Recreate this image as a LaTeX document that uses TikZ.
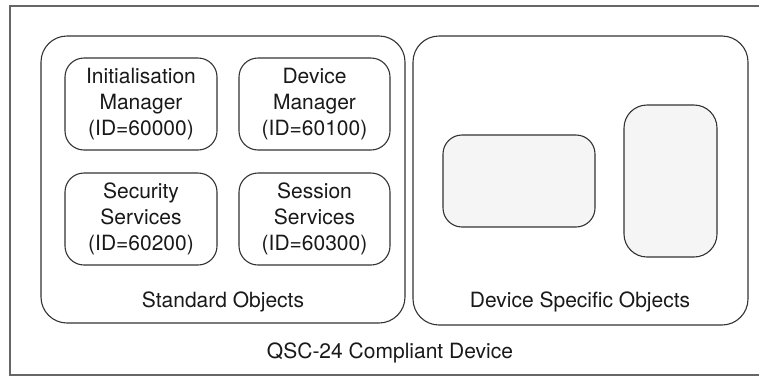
\documentclass[tikz,border=0pt]{standalone}
\usepackage{fontspec}
\setmainfont{TeX Gyre Heros}
\begin{document}
\begin{tikzpicture}[x=1pt,y=-1pt,
  every node/.style={font=\fontsize{21}{26}\selectfont, text=black!90, inner sep=0pt},
  frameline/.style={draw=black!60, line width=1.4pt},
  groupbox/.style={draw=black!80, line width=1.1pt, rounded corners=26pt},
  objbox/.style={draw=black!80, line width=1.1pt, rounded corners=19pt},
  blankbox/.style={objbox, fill=black!4},
  boxtext/.style={align=center}]
\useasboundingbox (0,0) rectangle (759,378);

% outer device frame (open on the right)
\coordinate (ftr) at (759,6);
\coordinate (ftl) at (10,6);
\coordinate (fbl) at (10,375);
\coordinate (fbr) at (759,375);
\draw[frameline] (ftr) -- (ftl) -- (fbl) -- (fbr);

% object groups
\draw[groupbox] (41,36) rectangle (405,323);
\draw[groupbox] (413,36) rectangle (748,325);

% standard objects
\draw[objbox] (65,58) rectangle (217,150);
\draw[objbox] (239,58) rectangle (390,150);
\draw[objbox] (65,173) rectangle (217,265);
\draw[objbox] (239,173) rectangle (390,265);

\node[boxtext] (init) at (141,104) {Initialisation\\Manager\\(ID=60000)};
\node[boxtext] (devmgr) at (314.5,104) {Device\\Manager\\(ID=60100)};
\node[boxtext] (secsvc) at (141,219) {Security\\Services\\(ID=60200)};
\node[boxtext] (sesssvc) at (314.5,219) {Session\\Services\\(ID=60300)};

% device specific objects
\draw[blankbox] (443,135) rectangle (595,227);
\draw[blankbox, rounded corners=23pt] (624,105) rectangle (717,257);

% captions
\node (stdlbl) at (223,302) {Standard Objects};
\node (dsolbl) at (580,302) {Device Specific Objects};
\node (devlbl) at (390,353) {QSC-24 Compliant Device};
\end{tikzpicture}
\end{document}
